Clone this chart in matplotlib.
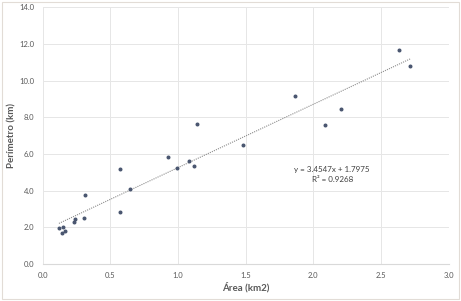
import matplotlib.pyplot as plt
import numpy as np
from matplotlib.patches import Rectangle

plt.rcParams['font.family'] = ['Lato', 'DejaVu Sans']

area = [0.12, 0.15, 0.143, 0.167, 0.231, 0.241, 0.307, 0.315, 0.571, 0.571, 0.645,
        0.928, 0.993, 1.083, 1.12, 1.138, 1.48, 1.867, 2.084, 2.207, 2.633, 2.717]
perimetro = [1.95, 2.02, 1.69, 1.82, 2.27, 2.47, 2.53, 3.76, 2.82, 5.2, 4.07,
             5.82, 5.22, 5.62, 5.36, 7.64, 6.49, 9.15, 7.6, 8.47, 11.69, 10.78]

x = np.array(area)
y = np.array(perimetro)
slope, intercept = 3.4547, 1.7975

fig = plt.figure(figsize=(4.61, 3.01), dpi=100)
ax = fig.add_axes([0.0926, 0.123, 0.8804, 0.853])

# chart border
fig.patches.append(Rectangle((0.004, 0.006), 0.992, 0.988, transform=fig.transFigure,
                             fill=False, edgecolor='#e2dcd6', linewidth=0.8))

ax.scatter(x, y, s=3.5, color='#4a5670', zorder=3)
xs = np.array([x.min(), x.max()])
ax.plot(xs, slope * xs + intercept, linestyle=(0, (1, 1)), color='#8c8c8c', linewidth=0.8, zorder=2)

ax.text(2.14, 5.16, 'y = 3.4547x + 1.7975', ha='center', va='center', fontsize=5.8, color='#404040')
ax.text(2.14, 4.58, 'R² = 0.9268', ha='center', va='center', fontsize=5.8, color='#404040')

ax.set_xlim(0, 3.0)
ax.set_ylim(0, 14.0)
ax.set_xticks(np.arange(0, 3.01, 0.5))
ax.set_yticks(np.arange(0, 14.01, 2.0))
ax.set_xticklabels(['%.1f' % v for v in np.arange(0, 3.01, 0.5)])
ax.set_yticklabels(['%.1f' % v for v in np.arange(0, 14.01, 2.0)])
ax.tick_params(length=0, labelsize=5.5, labelcolor='#595959', pad=6)
ax.grid(True, color='#e6e6e6', linewidth=0.7)
ax.set_axisbelow(True)
for s in ax.spines.values():
    s.set_visible(False)
ax.spines['bottom'].set_visible(True)
ax.spines['bottom'].set_color('#d9d9d9')

ax.set_xlabel('Área (km2)', fontsize=7, color='#595959', fontweight='bold', labelpad=2)
ax.set_ylabel('Perímetro (km)', fontsize=7, color='#595959', fontweight='bold', labelpad=2)

fig.savefig('out.png', dpi=100)
